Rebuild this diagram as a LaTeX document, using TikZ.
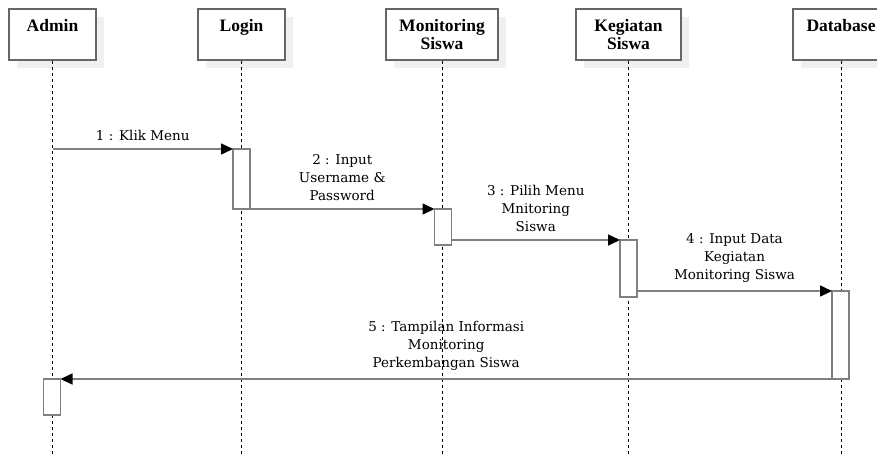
\documentclass[tikz,border=0pt]{standalone}
\usepackage{fontspec}
\setmainfont{DejaVu Serif}
\newfontfamily\headfont{Liberation Serif}
\usepackage{tikz}
\usetikzlibrary{arrows.meta,shapes,shadows,positioning}
\tikzset{
x=1pt, y=-1pt, % one unit is one pixel of the sketch, y grows downwards
actor/.style={draw=black!60, line width=1.4pt, fill=white, minimum height=51pt,
  drop shadow={shadow xshift=8pt, shadow yshift=-8pt, fill=black!6, opacity=1}},
headtext/.style={font=\headfont\bfseries\fontsize{17.5}{18}\selectfont, anchor=north,
  inner sep=0pt, yshift=-11pt, align=center},
lifeline/.style={dash pattern=on 3pt off 3pt, line width=0.9pt},
activation/.style={draw=black!50, line width=1.4pt, fill=white, minimum width=17pt,
  inner sep=0pt, outer sep=0pt, anchor=north},
msg/.style={draw=black!50, line width=1.5pt, -{Triangle[length=12pt, width=11pt, color=black]}},
msgtext/.style={font=\fontsize{13.5}{18}\selectfont, align=center, midway, above,
  inner sep=0pt, yshift=8pt}
}
\begin{document}
\begin{tikzpicture}
    \useasboundingbox (0,0) rectangle (877,456);
    \clip (0,0) rectangle (877,456);
    % actors
    \node[actor, minimum width=87pt] (admin) at (52.5,34.5) {};
    \node[headtext] at (admin.north) {Admin};
    \node[actor, minimum width=87pt] (login) at (241.5,34.5) {};
    \node[headtext] at (login.north) {Login};
    \node[actor, minimum width=112pt] (monitor) at (442,34.5) {};
    \node[headtext] at (monitor.north) {Monitoring\\Siswa};
    \node[actor, minimum width=105pt] (kegiatan) at (628.5,34.5) {};
    \node[headtext] at (kegiatan.north) {Kegiatan\\Siswa};
    \node[actor, minimum width=96pt] (database) at (841,34.5) {};
    \node[headtext] at (database.north) {Database};
    % lifelines
    \coordinate (adminEnd) at (52.5,460);
    \coordinate (loginEnd) at (241.5,460);
    \coordinate (monitorEnd) at (442,460);
    \coordinate (kegiatanEnd) at (628.5,460);
    \coordinate (databaseEnd) at (841,460);
    \draw[lifeline] (admin) -- (adminEnd);
    \draw[lifeline] (login) -- (loginEnd);
    \draw[lifeline] (monitor) -- (monitorEnd);
    \draw[lifeline] (kegiatan) -- (kegiatanEnd);
    \draw[lifeline] (database) -- (databaseEnd);
    % activations
    \node[activation, minimum height=60pt] (actLogin) at (241.5,149) {};
    \node[activation, minimum height=36pt] (actMonitor) at (443,209) {};
    \node[activation, minimum height=57pt] (actKegiatan) at (628.5,240) {};
    \node[activation, minimum height=88pt] (actDatabase) at (840.5,291) {};
    \node[activation, minimum height=36pt] (actAdmin) at (52,379) {};
    % messages
    \coordinate (klik) at (52.5,149);
    \draw[msg] (klik) -- (actLogin.north west)
        node[msgtext] {1 : Klik Menu};
    \draw[msg] (actLogin.south east) -- (actMonitor.north west)
        node[msgtext] {2 : Input\\Username \&\\Password};
    \draw[msg] ([yshift=5pt]actMonitor.south east) -- (actKegiatan.north west)
        node[msgtext] {3 : Pilih Menu\\Mnitoring\\Siswa};
    \draw[msg] ([yshift=6pt]actKegiatan.south east) -- (actDatabase.north west)
        node[msgtext] {4 : Input Data\\Kegiatan\\Monitoring Siswa};
    \draw[msg] (actDatabase.south west) -- (actAdmin.north east)
        node[msgtext] {5 : Tampilan Informasi\\Monitoring\\Perkembangan Siswa};
\end{tikzpicture}
\end{document}
